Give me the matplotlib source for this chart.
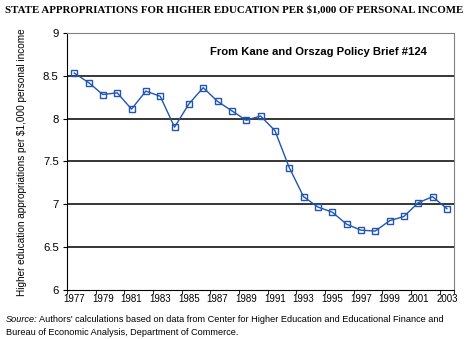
import matplotlib
matplotlib.use('Agg')
import matplotlib.pyplot as plt

years = list(range(1977, 2004))
approp = [8.53, 8.42, 8.28, 8.30, 8.11, 8.32, 8.26, 7.90, 8.17, 8.36,
          8.20, 8.09, 7.98, 8.03, 7.86, 7.43, 7.09, 6.97, 6.91, 6.77,
          6.70, 6.69, 6.81, 6.86, 7.02, 7.09, 6.95]
tick_years = years[::2]
y_ticks = [6, 6.5, 7, 7.5, 8, 8.5, 9]
y_labels = ['6', '6.5', '7', '7.5', '8', '8.5', '9']

plt.rcParams['font.family'] = ['Liberation Sans', 'DejaVu Sans']

fig = plt.figure(figsize=(4.74, 3.39), dpi=100)
ax = fig.add_axes([0.1414, 0.1437, 0.8166, 0.7598])

for v in y_ticks[1:-1]:
    ax.axhline(v, color='black', lw=1.1, zorder=1)

ax.plot(years, approp, color='#1f56b0', lw=1.0, marker='s', markersize=5,
        markerfacecolor='none', markeredgecolor='#1f56b0', markeredgewidth=1.0, zorder=3)

ax.set_xlim(years[0] - 0.5, years[-1] + 0.5)
ax.set_ylim(6, 9)
ax.set_yticks(y_ticks)
ax.set_yticklabels(y_labels, fontsize=8.2)
ax.set_xticks(tick_years)
ax.set_xticklabels([str(y) for y in tick_years], fontsize=7)
ax.set_xticks([y - 0.5 for y in tick_years] + [years[-1] + 0.5], minor=True)
ax.tick_params(axis='x', which='major', length=0, pad=3)
ax.tick_params(axis='x', which='minor', length=3, direction='out')
ax.tick_params(axis='y', length=3, direction='out', pad=3)

for s in ['top', 'right']:
    ax.spines[s].set_color('#808080')
ax.spines['left'].set_color('black')
ax.spines['bottom'].set_color('black')

fig.text(22 / 474, 1 - 162.5 / 339, 'Higher education appropriations per $1,000 personal income',
         rotation=90, fontsize=7.2, ha='center', va='center')

ax.text(0.65, 0.925, 'From Kane and Orszag Policy Brief #124', transform=ax.transAxes,
        ha='center', va='center', fontsize=8.15, fontweight='bold')

fig.text(0.011, 0.97, 'STATE APPROPRIATIONS FOR HIGHER EDUCATION PER $1,000 OF PERSONAL INCOME',
         family='Liberation Serif', fontweight='bold', fontsize=7.8, ha='left', va='center')

src = fig.text(0.012, 0.058, 'Source:', style='italic', fontsize=6.6, ha='left', va='center')
fig.canvas.draw()
bb = src.get_window_extent()
fig.text(bb.x1 / fig.bbox.width + 0.004, 0.058,
         "Authors' calculations based on data from Center for Higher Education and Educational Finance and",
         fontsize=6.6, ha='left', va='center')
fig.text(0.012, 0.02, 'Bureau of Economic Analysis, Department of Commerce.',
         fontsize=6.6, ha='left', va='center')

fig.savefig('out.png', dpi=100)
